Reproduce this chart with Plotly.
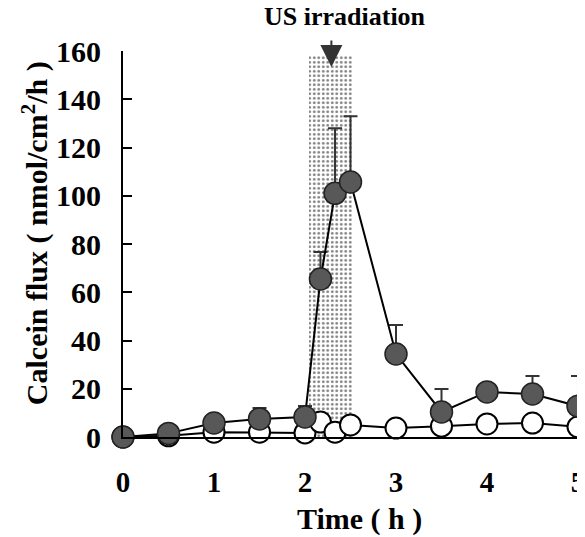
import plotly.graph_objects as go

# Time points (h)
time_h = [0, 0.5, 1.0, 1.5, 2.0, 2.17, 2.33, 2.5, 3.0, 3.5, 4.0, 4.5, 5.0]
# Calcein flux with US irradiation (filled circles)
flux_us = [0, 1.5, 5.8, 7.5, 8.3, 65.5, 101, 105.7, 34.4, 10.4, 18.7, 17.8, 12.8]
flux_us_err = [0.5, 1.0, 2.0, 4.5, 4.5, 11.2, 27, 27.3, 12, 9.5, 3, 7.5, 12.5]
# Control, no irradiation (open circles)
flux_ctrl = [0, 0.5, 2.0, 2.0, 1.7, 6.2, 2.0, 5.0, 3.7, 4.5, 5.4, 5.8, 4.2]

# Irradiation period (h) and shaded height
irr_start, irr_end = 2.04, 2.52
irr_top = 158
arrow_x = 2.29

x_ticks = [0, 1, 2, 3, 4, 5]
y_ticks = [0, 20, 40, 60, 80, 100, 120, 140, 160]

FONT = "Liberation Serif"

fig = go.Figure()

fig.add_trace(go.Bar(
    x=[(irr_start + irr_end) / 2], y=[irr_top], width=[irr_end - irr_start],
    marker=dict(color="white", line=dict(width=0),
                pattern=dict(shape=".", fgcolor="#000", bgcolor="white",
                             size=4.5, solidity=0.3)),
    showlegend=False, hoverinfo="skip",
))

fig.add_trace(go.Scatter(
    x=time_h, y=flux_ctrl, mode="lines+markers",
    line=dict(color="black", width=2),
    marker=dict(symbol="circle", size=21, color="white",
                line=dict(color="black", width=2)),
    cliponaxis=False, showlegend=False,
))

fig.add_trace(go.Scatter(
    x=time_h, y=flux_us, mode="lines+markers",
    line=dict(color="black", width=2),
    marker=dict(symbol="circle", size=22, color="#585858",
                line=dict(color="#222", width=1.5)),
    error_y=dict(type="data", symmetric=False, array=flux_us_err,
                 arrayminus=[0] * len(flux_us_err),
                 color="#333", thickness=2, width=7),
    cliponaxis=False, showlegend=False,
))

fig.update_layout(
    width=577, height=529,
    margin=dict(l=115, r=0, t=43, b=100),
    paper_bgcolor="white", plot_bgcolor="white",
    font=dict(family=FONT, color="black"),
    bargap=0,
    xaxis=dict(range=[0, 5.077], tickvals=x_ticks, ticks="",
               showline=True, linecolor="black", linewidth=2,
               showgrid=False, zeroline=False,
               tickfont=dict(family=FONT, size=29, weight="bold"),
               ticklabelstandoff=18, ticklabeloverflow="allow"),
    yaxis=dict(range=[0, 160], tickvals=y_ticks, ticks="inside",
               ticklen=9, tickwidth=2, tickcolor="black",
               showline=True, linecolor="black", linewidth=2,
               showgrid=False, zeroline=False,
               tickfont=dict(family=FONT, size=30, weight="bold"),
               ticklabelstandoff=14),
    annotations=[
        dict(text="Calcein flux ( nmol/cm<sup>2</sup>/h )", textangle=-90,
             xref="paper", yref="paper", x=-0.1905, y=0.528,
             xanchor="center", yanchor="middle", showarrow=False,
             font=dict(family=FONT, size=30, weight="bold")),
        dict(text="Time ( h )", xref="paper", yref="paper", x=0.511, y=-0.212,
             xanchor="center", yanchor="middle", showarrow=False,
             font=dict(family=FONT, size=30, weight="bold")),
        dict(text="US irradiation", xref="paper", yref="paper", x=0.4805, y=1.09,
             xanchor="center", yanchor="middle", showarrow=False,
             font=dict(family=FONT, size=26, weight="bold")),
        dict(text="", x=arrow_x, y=153.4, xref="x", yref="y",
             showarrow=True, ax=0, ay=-28, axref="pixel", ayref="pixel",
             arrowhead=2, arrowsize=2.2, arrowwidth=2, arrowcolor="#333"),
    ],
)

fig.write_html("out.html")
